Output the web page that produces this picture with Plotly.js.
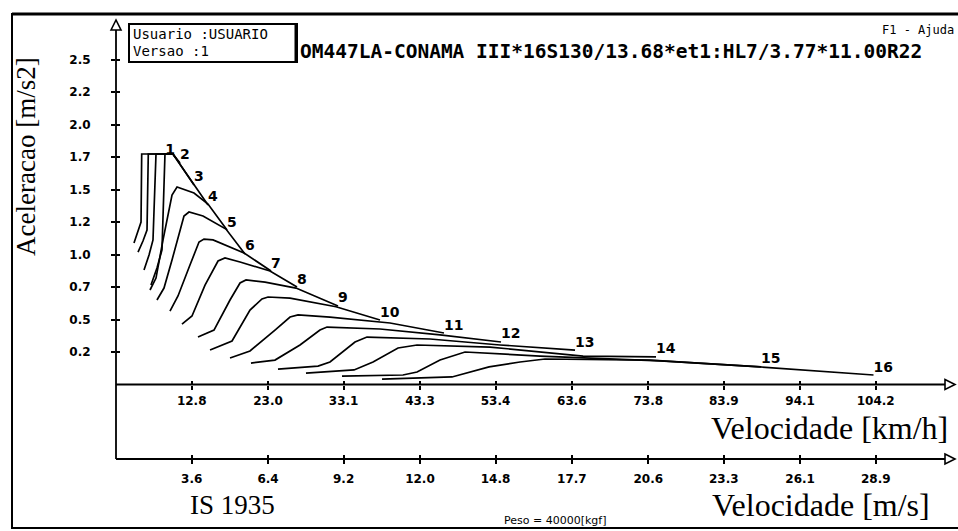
<!DOCTYPE html>
<html><head><meta charset="utf-8">
<script src="https://cdn.plot.ly/plotly-3.0.1.min.js"></script>
<style>html,body{margin:0;padding:0;background:#fff;}#chart{width:958px;height:531px;}</style>
</head><body><div id="chart"></div>
<script>
// ---- data ----
const kmhTickValues = [12.8, 23.0, 33.1, 43.3, 53.4, 63.6, 73.8, 83.9, 94.1, 104.2];
const kmhTickLabels = ['12.8','23.0','33.1','43.3','53.4','63.6','73.8','83.9','94.1','104.2'];
const msTickLabels = ['3.6','6.4','9.2','12.0','14.8','17.7','20.6','23.3','26.1','28.9'];
const accelTickValues = [0.25, 0.5, 0.75, 1.0, 1.25, 1.5, 1.75, 2.0, 2.25, 2.5];
const accelTickLabels = ['0.2','0.5','0.7','1.0','1.2','1.5','1.7','2.0','2.2','2.5'];
const gearNames = ['1','2','3','4','5','6','7','8','9','10','11','12','13','14','15','16'];

const speedG1 = [5.09, 5.49, 6.03, 6.12, 10.30, 10.57];
const accelG1 = [1.088, 1.165, 1.250, 1.773, 1.773, 1.750];
const speedG2 = [5.63, 6.29, 6.83, 7.00, 10.30, 11.24];
const accelG2 = [1.019, 1.104, 1.188, 1.773, 1.773, 1.704];
const speedG3 = [6.43, 7.10, 7.63, 8.03, 10.30, 13.11];
const accelG3 = [0.881, 0.996, 1.112, 1.773, 1.773, 1.535];
const speedG4 = [7.36, 8.16, 8.83, 9.23, 10.30, 14.98];
const accelG4 = [0.765, 0.896, 1.035, 1.773, 1.773, 1.381];
const speedG5 = [7.23, 8.03, 8.97, 10.17, 10.84, 13.11, 14.98, 17.52];
const accelG5 = [0.727, 0.819, 1.112, 1.458, 1.519, 1.473, 1.388, 1.188];
const speedG6 = [8.16, 9.10, 10.17, 11.77, 12.44, 14.31, 17.38, 19.92];
const accelG6 = [0.650, 0.742, 0.958, 1.296, 1.327, 1.296, 1.196, 1.004];
const speedG7 = [9.90, 10.97, 12.57, 13.78, 14.44, 15.65, 19.79, 23.40];
const accelG7 = [0.565, 0.681, 0.919, 1.096, 1.119, 1.112, 1.012, 0.873];
const speedG8 = [11.50, 12.84, 14.58, 16.32, 17.25, 19.26, 23.26, 26.87];
const accelG8 = [0.465, 0.527, 0.765, 0.950, 0.973, 0.942, 0.873, 0.750];
const speedG9 = [13.64, 15.78, 17.92, 19.26, 20.06, 22.60, 26.74, 32.35];
const accelG9 = [0.365, 0.419, 0.650, 0.781, 0.804, 0.788, 0.742, 0.604];
const speedG10 = [15.25, 18.19, 20.59, 22.19, 23.00, 25.94, 32.08, 37.96];
const accelG10 = [0.265, 0.335, 0.573, 0.658, 0.673, 0.665, 0.598, 0.496];
const speedG11 = [17.92, 20.59, 23.93, 25.94, 27.01, 31.28, 39.30, 46.51];
const accelG11 = [0.204, 0.258, 0.419, 0.519, 0.535, 0.519, 0.473, 0.396];
const speedG12 = [20.72, 23.93, 27.27, 29.94, 30.88, 37.96, 45.98, 54.13];
const accelG12 = [0.165, 0.188, 0.304, 0.419, 0.442, 0.427, 0.381, 0.327];
const speedG13 = [24.33, 29.68, 31.28, 34.62, 36.22, 44.64, 54.00, 64.02];
const accelG13 = [0.119, 0.142, 0.173, 0.327, 0.365, 0.350, 0.304, 0.265];
const speedG14 = [28.07, 34.49, 37.03, 40.37, 42.91, 52.66, 65.09, 74.84];
const accelG14 = [0.088, 0.112, 0.173, 0.281, 0.304, 0.288, 0.219, 0.212];
const speedG15 = [32.88, 41.03, 42.91, 45.98, 49.32, 59.34, 75.37, 88.87];
const accelG15 = [0.065, 0.073, 0.096, 0.188, 0.250, 0.219, 0.181, 0.135];
const speedG16 = [38.23, 47.58, 52.53, 56.67, 60.01, 74.04, 88.74, 103.90];
const accelG16 = [0.042, 0.058, 0.135, 0.173, 0.196, 0.188, 0.135, 0.073];

const gearSpeeds = [speedG1,speedG2,speedG3,speedG4,speedG5,speedG6,speedG7,speedG8,speedG9,speedG10,speedG11,speedG12,speedG13,speedG14,speedG15,speedG16];
const gearAccels = [accelG1,accelG2,accelG3,accelG4,accelG5,accelG6,accelG7,accelG8,accelG9,accelG10,accelG11,accelG12,accelG13,accelG14,accelG15,accelG16];

// ---- layout geometry ----
const W = 958, H = 531, L = 116, R = 3, T = 20, B = 72;
const PW = W - L - R, PH = H - T - B;
const fx = p => (p - L) / PW;          // pixel x -> paper
const fy = p => (H - B - p) / PH;      // pixel y -> paper
const xAxisPix = 384.5;                // km/h axis line
const KMH_RANGE = [2.686, 114.79];
const MS_RANGE = KMH_RANGE.map(v => v / 3.6);
const ACC_RANGE = [0, 2.804];

const traces = gearSpeeds.map((sp, i) => ({
  type: 'scatter', mode: 'lines', x: sp, y: gearAccels[i],
  line: {color: '#000', width: 1.7}, hoverinfo: 'skip', showlegend: false,
  xaxis: 'x', yaxis: 'y'
}));
const labelPos = gearNames.map((g, i) => i === 0 ? 'top left' : 'top right');
traces.push({
  type: 'scatter', mode: 'text',
  x: gearSpeeds.map(a => a[a.length - 1]),
  y: gearAccels.map(a => a[a.length - 1]),
  text: gearNames, textposition: labelPos,
  textfont: {family: 'DejaVu Sans', size: 14, color: '#000', weight: 'bold'},
  showlegend: false, hoverinfo: 'skip', xaxis: 'x', yaxis: 'y', cliponaxis: false
});
// empty traces so that the overlay axes are drawn
['x2', 'x3', 'x4'].forEach(ax => traces.push({type: 'scatter', mode: 'lines', x: [null], y: [null],
  xaxis: ax, yaxis: 'y', showlegend: false, hoverinfo: 'skip'}));
traces.push({type: 'scatter', mode: 'lines', x: [null], y: [null], xaxis: 'x', yaxis: 'y2', showlegend: false, hoverinfo: 'skip'});

const tickFont = {family: 'DejaVu Sans', size: 12, color: '#000', weight: 'bold'};
const serif = {family: 'Liberation Serif', color: '#000'};

function tri(tx, ty, dir) {
  let pts;
  if (dir === 'up') pts = [[tx-5, ty+10], [tx, ty], [tx+5, ty+10]];
  else pts = [[tx-10, ty-5], [tx, ty], [tx-10, ty+5]];
  return {type: 'path', xref: 'paper', yref: 'paper',
    path: 'M' + pts.map(p => fx(p[0]) + ',' + fy(p[1])).join(' L') + ' Z',
    line: {color: '#000', width: 1.6}, fillcolor: '#fff'};
}
function seg(x0, y0, x1, y1, w) {
  return {type: 'line', xref: 'paper', yref: 'paper', x0: fx(x0), y0: fy(y0), x1: fx(x1), y1: fy(y1),
    line: {color: '#000', width: w}};
}
function note(text, x, y, font, xanchor, extra) {
  return Object.assign({text: text, xref: 'paper', yref: 'paper', x: fx(x), y: fy(y),
    xanchor: xanchor || 'center', yanchor: 'middle', showarrow: false, font: font}, extra || {});
}
const tickCommon = {tickmode: 'array', tickwidth: 2, tickcolor: '#000', ticklen: 4,
  showline: false, showgrid: false, zeroline: false};

const layout = {
  width: W, height: H,
  margin: {l: L, r: R, t: T, b: B, pad: 0},
  paper_bgcolor: '#fff', plot_bgcolor: 'rgba(0,0,0,0)',
  showlegend: false, hovermode: false,
  title: {text: 'OM447LA-CONAMA III*16S130/13.68*et1:HL7/3.77*11.00R22',
    xref: 'container', yref: 'container', x: 300 / W, xanchor: 'left', y: 1 - 51 / H, yanchor: 'middle',
    font: {family: 'DejaVu Sans Mono', size: 19.5, color: '#000', weight: 'bold'}},
  xaxis: Object.assign({range: KMH_RANGE, anchor: 'y', tickvals: kmhTickValues, ticktext: kmhTickLabels,
    ticks: 'outside', tickfont: tickFont, ticklabelstandoff: 1}, tickCommon),
  xaxis3: Object.assign({range: KMH_RANGE, overlaying: 'x', anchor: 'y', side: 'bottom', tickvals: kmhTickValues,
    ticks: 'inside', showticklabels: false}, tickCommon),
  xaxis2: Object.assign({range: MS_RANGE, overlaying: 'x', anchor: 'free', position: 0, side: 'bottom',
    tickvals: kmhTickValues.map(v => v / 3.6), ticktext: msTickLabels,
    ticks: 'outside', tickfont: tickFont, ticklabelstandoff: 5}, tickCommon),
  xaxis4: Object.assign({range: MS_RANGE, overlaying: 'x', anchor: 'free', position: 0, side: 'bottom',
    tickvals: kmhTickValues.map(v => v / 3.6), ticks: 'inside', showticklabels: false}, tickCommon),
  yaxis: Object.assign({range: ACC_RANGE, domain: [fy(xAxisPix), 1], anchor: 'x',
    tickvals: accelTickValues, ticktext: accelTickLabels, ticks: 'outside',
    tickfont: tickFont, ticklabelstandoff: 18}, tickCommon),
  yaxis2: Object.assign({range: ACC_RANGE, overlaying: 'y', anchor: 'x', side: 'left', tickvals: accelTickValues,
    ticks: 'inside', showticklabels: false}, tickCommon),
  shapes: [
    {type: 'rect', xref: 'paper', yref: 'paper', x0: fx(12), y0: fy(14), x1: fx(970), y1: fy(528), line: {color: '#000', width: 2}},
    seg(12, 14, 958, 14, 3),
    seg(116, 30, 116, 459, 1.8),
    seg(116, xAxisPix, 945, xAxisPix, 1.8),
    seg(116, 459, 945, 459, 1.8),
    tri(116, 20, 'up'), tri(955, xAxisPix, 'right'), tri(955, 459, 'right'),
    {type: 'rect', xref: 'paper', yref: 'paper', x0: fx(129), y0: fy(24), x1: fx(297), y1: fy(62), line: {color: '#000', width: 2}},
    seg(296, 25, 296, 61, 3)
  ],
  annotations: [
    note('Usuario :USUARIO', 131, 34, {family: 'DejaVu Sans Mono', size: 14, color: '#000'}, 'left'),
    note('Versao :1', 131, 51, {family: 'DejaVu Sans Mono', size: 14, color: '#000'}, 'left'),
    note('F1 - Ajuda', 956, 30, {family: 'DejaVu Sans Mono', size: 12, color: '#000'}, 'right'),
    note('Aceleracao [m/s2]', 26, 157, Object.assign({size: 27}, serif), 'center', {textangle: -90}),
    note('Velocidade [km/h]', 950, 428, Object.assign({size: 32}, serif), 'right'),
    note('Velocidade [m/s]', 710, 505, Object.assign({size: 32}, serif), 'left'),
    note('IS 1935', 232, 505, Object.assign({size: 27}, serif), 'center'),
    note('Peso = 40000[kgf]', 555, 520, {family: 'DejaVu Sans', size: 11, color: '#000'}, 'center')
  ]
};

Plotly.newPlot('chart', traces, layout, {staticPlot: true, displayModeBar: false});
</script></body></html>
